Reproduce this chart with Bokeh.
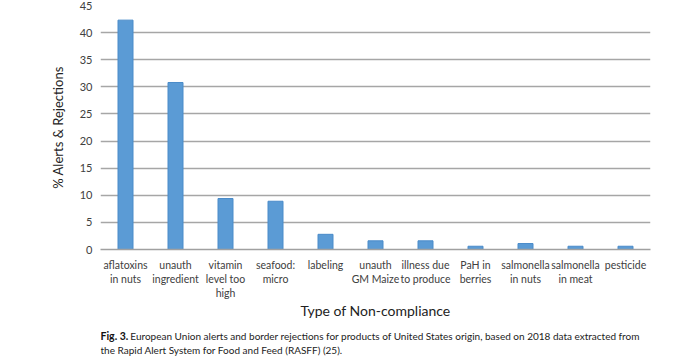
from bokeh.plotting import figure
from bokeh.models import Range1d, ColumnDataSource
from bokeh.layouts import column
from bokeh.core.properties import value
from bokeh.embed import file_html
from bokeh.resources import INLINE

categories = ["aflatoxins\nin nuts", "unauth\ningredient", "vitamin\nlevel too\nhigh", "seafood:\nmicro",
              "labeling", "unauth\nGM Maize", "illness due\nto produce", "PaH in\nberries",
              "salmonella\nin nuts", "salmonella\nin meat", "pesticide"]
values = [42.3, 30.8, 9.4, 8.9, 2.8, 1.6, 1.6, 0.6, 1.1, 0.6, 0.6]
y_ticks = [0, 5, 10, 15, 20, 25, 30, 35, 40, 45]
caption_bold = "Fig. 3."
caption_line1 = ("European Union alerts and border rejections for products of United States origin, "
                 "based on 2018 data extracted from")
caption_line2 = "the Rapid Alert System for Food and Feed (RASFF) (25)."

src = ColumnDataSource(dict(cat=categories, val=values))

p = figure(width=700, height=322, x_range=categories, y_range=Range1d(0, 45),
           output_backend="svg", toolbar_location=None,
           min_border_left=100, min_border_right=50, min_border_top=5, min_border_bottom=66)
p.outline_line_color = None

p.vbar(x="cat", top="val", source=src, width=0.3, fill_color="#5b9bd5", line_color="#4a8bc9", line_width=1)

p.yaxis.ticker = y_ticks
p.yaxis.axis_line_color = None
p.yaxis.major_tick_line_color = None
p.yaxis.major_tick_out = 0
p.yaxis.minor_tick_line_color = None
p.yaxis.major_label_standoff = 8
p.yaxis.major_label_text_font = "Lato"
p.yaxis.major_label_text_font_size = "11px"
p.yaxis.major_label_text_color = "#404040"
p.yaxis.axis_label = "% Alerts & Rejections"
p.yaxis.axis_label_text_font = "Lato"
p.yaxis.axis_label_text_font_style = "normal"
p.yaxis.axis_label_text_font_size = "13px"
p.yaxis.axis_label_text_color = "#222222"
p.yaxis.axis_label_standoff = 11

p.xaxis.axis_line_color = "#a0a0a0"
p.xaxis.axis_line_width = 1.5
p.xaxis.major_tick_line_color = None
p.xaxis.major_tick_out = 0
p.xaxis.minor_tick_line_color = None
p.xaxis.major_label_text_font = "Lato"
p.xaxis.major_label_text_font_size = "10.5px"
p.xaxis.major_label_text_color = "#404040"
p.xaxis.major_label_standoff = 9
p.xaxis.axis_label = "Type of Non-compliance"
p.xaxis.axis_label_text_font = "Lato"
p.xaxis.axis_label_text_font_style = "normal"
p.xaxis.axis_label_text_font_size = "14px"
p.xaxis.axis_label_text_color = "#222222"
p.xaxis.axis_label_standoff = 0

p.xgrid.grid_line_color = None
p.ygrid.grid_line_color = "#a6a6a6"
p.ygrid.grid_line_width = 1.5

# caption strip
c = figure(width=700, height=36, x_range=Range1d(0, 700), y_range=Range1d(36, 0),
           output_backend="svg", toolbar_location=None,
           min_border_left=0, min_border_right=0, min_border_top=0, min_border_bottom=0)
c.axis.visible = False
c.grid.visible = False
c.outline_line_color = None
cf = value("Lato")
c.text(x=[0], y=[13], text=[caption_bold], text_font=cf, text_font_size="10.5px", text_font_style="bold",
       text_color="#111111", text_baseline="middle")
c.text(x=[38], y=[13], text=[caption_line1], text_font=cf, text_font_size="10px",
       text_color="#222222", text_baseline="middle")
c.text(x=[0], y=[27], text=[caption_line2], text_font=cf, text_font_size="10px",
       text_color="#222222", text_baseline="middle")

layout = column(p, c, spacing=0)
open("out.html", "w").write(file_html(layout, INLINE))
